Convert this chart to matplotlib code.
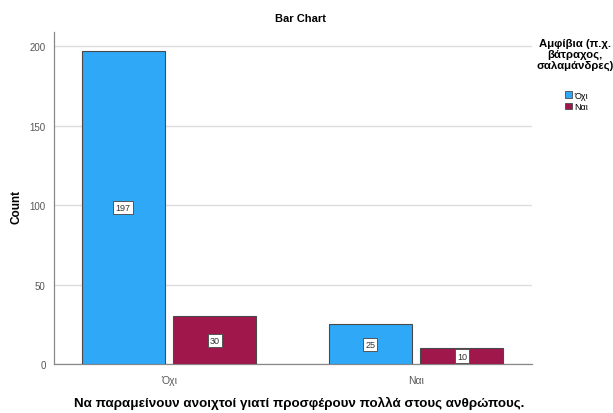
import numpy as np
import matplotlib
matplotlib.use("Agg")
import matplotlib.pyplot as plt
from matplotlib.patches import Patch

plt.rcParams['font.family'] = ['Liberation Sans', 'DejaVu Sans']

categories = ['Όχι', 'Ναι']
series_names = ['Όχι', 'Ναι']
counts_no = [197, 25]
counts_yes = [30, 10]
colors = ['#2ea8f7', '#a0174c']

fig = plt.figure(figsize=(6.13, 4.14), dpi=100)
ax = fig.add_axes([0.088, 0.118, 0.78, 0.802])

x = np.arange(len(categories))
w = 0.336
gap = 0.036
for vals, off, col in [(counts_no, -(w + gap) / 2, colors[0]),
                       (counts_yes, (w + gap) / 2, colors[1])]:
    bars = ax.bar(x + off, vals, width=w, color=col, edgecolor='#4a4a4a',
                  linewidth=0.8, zorder=3)
    for b, v in zip(bars, vals):
        ax.text(b.get_x() + b.get_width() / 2, v / 2, str(v), fontsize=6.5,
                ha='center', va='center', zorder=4, color='#333333',
                bbox=dict(boxstyle='square,pad=0.25', fc='white',
                          ec='#555555', lw=0.7))

ax.set_xlim(-0.466, 1.47)
ax.set_ylim(0, 209)
ax.set_yticks([0, 50, 100, 150, 200])
ax.set_xticks(x)
ax.set_xticklabels(categories)
ax.tick_params(axis='y', length=0, labelsize=7, labelcolor='#555555', pad=6)
ax.tick_params(axis='x', length=0, labelsize=7.5, labelcolor='#555555', pad=8)
ax.yaxis.grid(True, color='#dddddd', linewidth=1, zorder=0)
for s in ['top', 'right']:
    ax.spines[s].set_visible(False)
for s in ['left', 'bottom']:
    ax.spines[s].set_color('#888888')
    ax.spines[s].set_linewidth(0.9)

# axis labels and title placed on the figure so they stay inside the canvas
fig.text(0.027, 0.5, 'Count', fontsize=8.5, fontweight='bold', rotation=90,
         ha='center', va='center')
fig.text(0.488, 0.026,
         'Να παραμείνουν ανοιχτοί γιατί προσφέρουν πολλά στους ανθρώπους.',
         fontsize=9.6, fontweight='bold', ha='center', va='center')
fig.text(0.49, 0.955, 'Bar Chart', fontsize=8, fontweight='bold',
         ha='center', va='center')

fig.text(0.938, 0.905, 'Αμφίβια (π.χ.\nβάτραχος,\nσαλαμάνδρες)', fontsize=8.2,
         fontweight='bold', ha='center', va='top', multialignment='center',
         linespacing=1.05)
handles = [Patch(facecolor=c, edgecolor='#4a4a4a', linewidth=0.6) for c in colors]
fig.legend(handles, series_names, loc='upper left', bbox_to_anchor=(0.922, 0.778),
           frameon=False, fontsize=6.5, handlelength=0.8, handleheight=0.8,
           handletextpad=0.2, labelspacing=0.25, borderaxespad=0, borderpad=0)

fig.savefig('out.png', dpi=100)
